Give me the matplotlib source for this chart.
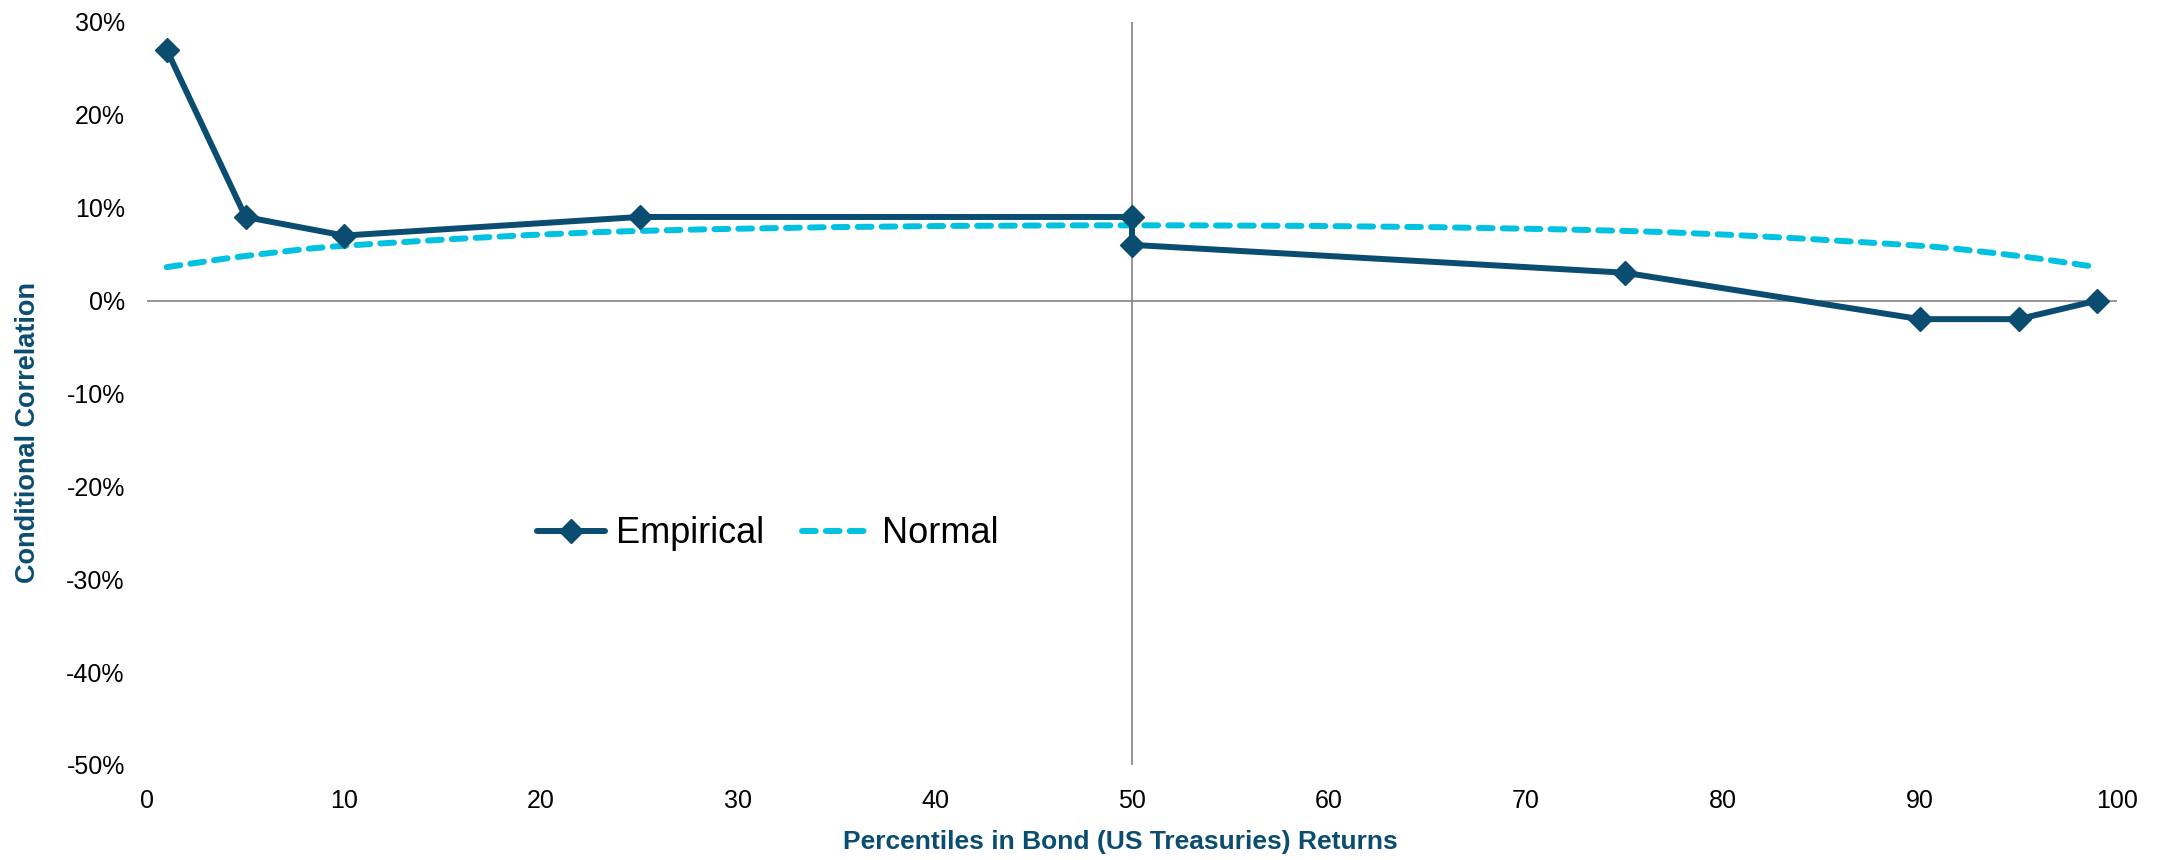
import matplotlib
matplotlib.use('Agg')
import matplotlib.pyplot as plt
from matplotlib.path import Path
from matplotlib.patches import PathPatch
from matplotlib.ticker import FuncFormatter

plt.rcParams['font.family'] = ['Liberation Sans', 'DejaVu Sans']

# Percentiles and conditional correlations (%)
emp_x = [1, 5, 10, 25, 50, 50, 75, 90, 95, 99]
emp_y = [27, 9, 7, 9, 9, 6, 3, -2, -2, 0]

norm_x = [1, 5, 10, 25, 50, 75, 90, 95, 99]
norm_y = [3.6, 4.8, 5.9, 7.5, 8.1, 7.5, 5.9, 4.8, 3.6]

dark = '#0a4d70'
cyan = '#00c2e0'


def smooth_path(xs, ys):
    # smoothed line: cubic Hermite pieces written as Bezier curves
    n = len(xs)
    m = []
    for i in range(n):
        a = max(i - 1, 0)
        b = min(i + 1, n - 1)
        m.append((ys[b] - ys[a]) / (xs[b] - xs[a]))
    verts = [(xs[0], ys[0])]
    codes = [Path.MOVETO]
    for i in range(n - 1):
        h = (xs[i + 1] - xs[i]) / 3
        verts += [(xs[i] + h, ys[i] + m[i] * h),
                  (xs[i + 1] - h, ys[i + 1] - m[i + 1] * h),
                  (xs[i + 1], ys[i + 1])]
        codes += [Path.CURVE4] * 3
    return Path(verts, codes)


fig = plt.figure(figsize=(21.62, 8.6), dpi=100)
ax = fig.add_axes([0.068, 0.1105, 0.9112, 0.864])

ax.set_xlim(0, 100)
ax.set_ylim(-50, 30)

# axis cross lines (Excel style: y axis crosses at 50, x axis at 0)
ax.axhline(0, color='#8c8c8c', lw=1.3, zorder=1)
ax.axvline(50, color='#8c8c8c', lw=1.3, zorder=1)

dash = (2.3, 1.7)
patch = PathPatch(smooth_path(norm_x, norm_y), fill=False, edgecolor=cyan,
                  lw=4.3, linestyle=(0, dash), capstyle='round', zorder=2)
ax.add_patch(patch)

ax.plot(emp_x, emp_y, color=dark, lw=4.3, marker='D', markersize=12.5,
        solid_capstyle='round', zorder=3, label='Empirical')
ax.plot([], [], color=cyan, lw=4.3, linestyle=(0, dash),
        dash_capstyle='round', label='Normal')

for s in ax.spines.values():
    s.set_visible(False)

ax.set_xticks(range(0, 101, 10))
ax.set_yticks(range(-50, 31, 10))
ax.yaxis.set_major_formatter(FuncFormatter(lambda v, p: f'{v:.0f}%'))
ax.tick_params(length=0, labelsize=18, colors='black')
ax.tick_params(axis='y', pad=16)
ax.tick_params(axis='x', pad=17)

ax.set_xlabel('Percentiles in Bond (US Treasuries) Returns', fontsize=19,
              fontweight='bold', color=dark)
ax.xaxis.set_label_coords(0.494, -0.087)
ax.set_ylabel('Conditional Correlation', fontsize=19.5, fontweight='bold',
              color=dark)
ax.yaxis.set_label_coords(-0.054, 0.447)

ax.legend(loc='center', bbox_to_anchor=(0.315, 0.311), ncol=2, frameon=False,
          fontsize=26, handlelength=1.9, columnspacing=1.05, handletextpad=0.3)

fig.savefig('out.png', dpi=100)
